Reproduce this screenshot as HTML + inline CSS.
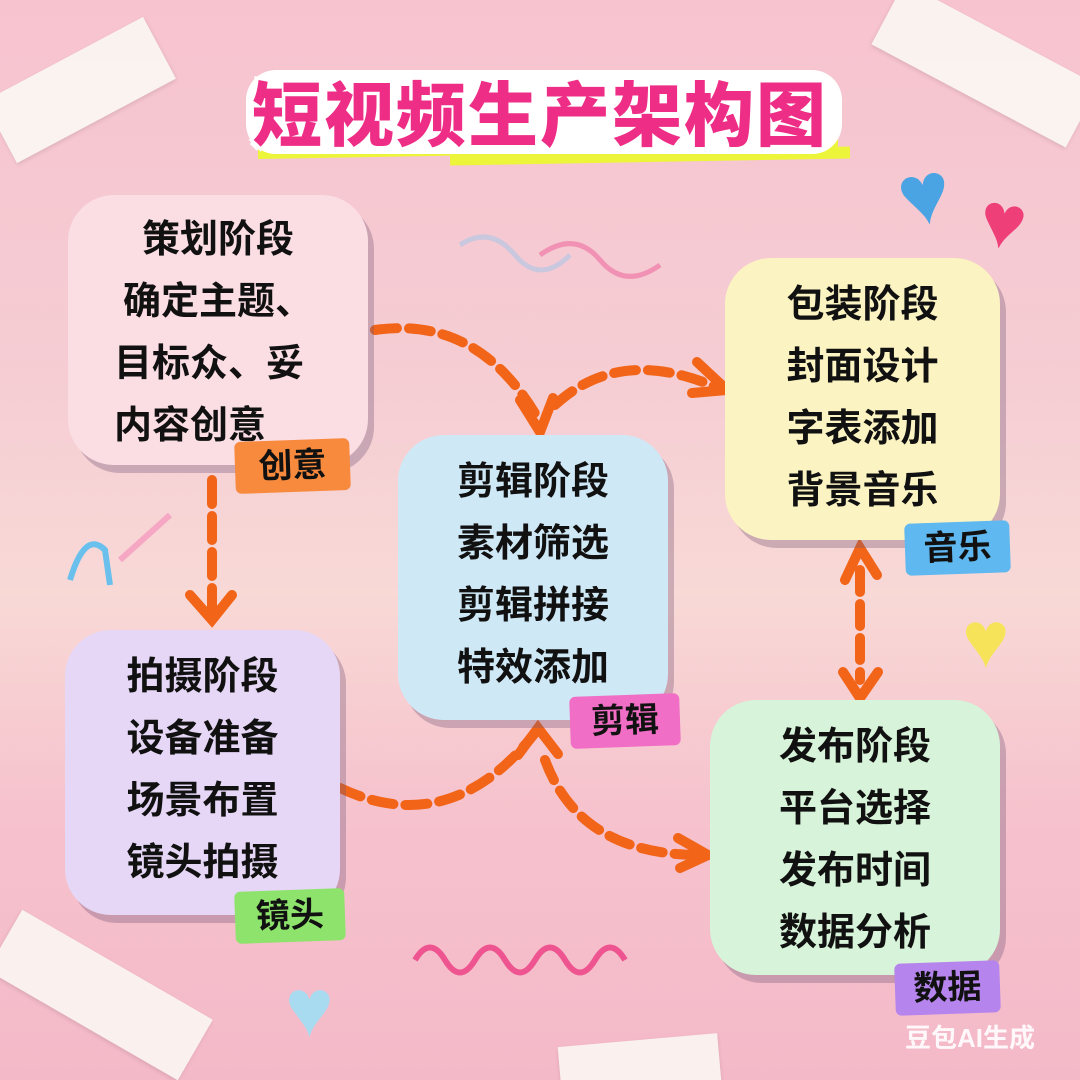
<!DOCTYPE html>
<html><head><meta charset="utf-8"><style>
*{margin:0;padding:0;box-sizing:border-box}
html,body{width:1080px;height:1080px;overflow:hidden}
body{position:relative;font-family:"Liberation Sans","Noto Sans CJK SC",sans-serif;
background:linear-gradient(180deg,#f7c3cf 0%,#f5cdd3 35%,#f8d9d6 55%,#f6c2cd 75%,#f4b9c8 100%);}
.box{position:absolute;border-radius:46px;box-shadow:6px 8px 0 rgba(120,90,120,.35);text-align:center;color:#111;font-weight:bold;font-size:38px;line-height:62px;}
.box p{white-space:nowrap}
.tag{position:absolute;font-size:34px;font-weight:bold;color:#111;text-align:center;line-height:52px;border-radius:6px;transform:rotate(-2deg)}
.tape{position:absolute;background:rgba(250,250,245,.85);box-shadow:0 2px 4px rgba(0,0,0,.1)}
.title{position:absolute;left:252px;top:60px;font-size:70px;font-weight:900;color:#ee2d86;letter-spacing:2px;white-space:nowrap;
text-shadow:4px 4px 0 #fff,-4px -4px 0 #fff,4px -4px 0 #fff,-4px 4px 0 #fff,0 5px 0 #fff,0 -5px 0 #fff,5px 0 0 #fff,-5px 0 0 #fff;}
.heart{position:absolute;line-height:1}
</style></head><body>
<div class="tape" style="left:-10px;top:55px;width:180px;height:70px;transform:rotate(-28deg)"></div>
<div class="tape" style="left:875px;top:30px;width:220px;height:70px;transform:rotate(28deg)"></div>
<div class="tape" style="left:-10px;top:960px;width:220px;height:70px;transform:rotate(30deg)"></div>
<div class="tape" style="left:560px;top:1040px;width:160px;height:60px;transform:rotate(-5deg)"></div>
<div style="position:absolute;left:258px;top:140px;width:580px;height:14px;background:#ecf53a;transform:rotate(-1deg)"></div>
<div style="position:absolute;left:450px;top:150px;width:400px;height:12px;background:#ecf53a;transform:rotate(-1deg)"></div>
<div style="position:absolute;left:246px;top:70px;width:596px;height:84px;background:#fff;border-radius:30px"></div>
<div class="title">短视频生产架构图</div>
<div class="heart" style="left:898px;top:150px;font-size:88px;color:#4aa3e3;transform:rotate(-10deg)">♥</div>
<div class="heart" style="left:980px;top:182px;font-size:78px;color:#ee3f78;transform:rotate(10deg)">♥</div>
<div class="heart" style="left:962px;top:600px;font-size:80px;color:#f6e35a">♥</div>
<div class="heart" style="left:285px;top:968px;font-size:82px;color:#a9dbf0">♥</div>
<svg width="1080" height="1080" style="position:absolute;left:0;top:0">
<path d="M460 245 Q490 225 515 255 T570 255" stroke="#b8c8e4" stroke-width="5" fill="none" opacity=".7"/>
<path d="M540 255 Q575 230 600 260 T660 265" stroke="#f07aa6" stroke-width="5" fill="none" opacity=".7"/>
<path d="M415 960 q15 -25 30 0 t30 0 t30 0 t30 0 t30 0 t30 0 t30 0" stroke="#ee5490" stroke-width="6" fill="none"/>
<path d="M70 580 q15 -50 35 -30 l5 35" stroke="#6ac0ec" stroke-width="6" fill="none"/>
<path d="M120 560 l50 -45" stroke="#f6a7c4" stroke-width="6"/>
<g stroke="#f26418" stroke-width="10" fill="none" stroke-linecap="round">
<path d="M375 330 Q480 315 540 422" stroke-dasharray="22 12"/>
<path d="M520 400 L540 432 L553 398"/>
<path d="M555 405 Q620 345 718 388" stroke-dasharray="22 12"/>
<path d="M697 362 L727 390 L692 393"/>
<path d="M212 480 L212 612" stroke-dasharray="24 12"/>
<path d="M190 595 L212 620 L232 595"/>
<path d="M340 788 Q450 840 535 733" stroke-dasharray="22 12"/>
<path d="M518 755 L538 728 L558 754"/>
<path d="M545 760 Q580 855 700 855" stroke-dasharray="22 12"/>
<path d="M678 838 L708 855 L680 868"/>
<path d="M860 570 L860 680" stroke-dasharray="22 12"/>
<path d="M845 580 L860 548 L877 575"/>
<path d="M843 672 L860 698 L878 672"/>
</g>
<g stroke-width="6" fill="none" stroke-linecap="round">
<path d="M118 397 Q160 405 250 398" stroke="#ee3f9c"/>
<path d="M290 395 Q310 387 338 390" stroke="#ee3f9c"/>
<path d="M220 830 L290 830" stroke="#7fe07a"/>
<path d="M115 885 Q150 893 230 885" stroke="#7fe07a"/>
</g>
</svg>
<div class="box" style="left:68px;top:195px;width:300px;height:270px;background:#fbdde4;padding-top:14px"><p>策划阶段</p><p>确定主题、</p><p style="text-align:left;padding-left:46px">目标众、妥</p><p style="text-align:left;padding-left:46px">内容创意</p></div>
<div class="box" style="left:65px;top:630px;width:275px;height:285px;background:#e5d7f5;padding-top:16px"><p>拍摄阶段</p><p>设备准备</p><p>场景布置</p><p>镜头拍摄</p></div>
<div class="box" style="left:398px;top:435px;width:270px;height:285px;background:#cfe8f6;padding-top:16px"><p>剪辑阶段</p><p>素材筛选</p><p>剪辑拼接</p><p>特效添加</p></div>
<div class="box" style="left:725px;top:258px;width:275px;height:282px;background:#fbf3c2;padding-top:16px"><p>包装阶段</p><p>封面设计</p><p>字表添加</p><p>背景音乐</p></div>
<div class="box" style="left:710px;top:700px;width:290px;height:275px;background:#d7f3d9;padding-top:16px"><p>发布阶段</p><p>平台选择</p><p>发布时间</p><p>数据分析</p></div>
<div class="tag" style="left:235px;top:440px;width:115px;background:#f88a3e">创意</div>
<div class="tag" style="left:235px;top:890px;width:110px;background:#8ee36c">镜头</div>
<div class="tag" style="left:570px;top:695px;width:110px;background:#f06ec5">剪辑</div>
<div class="tag" style="left:905px;top:522px;width:105px;background:#5fb8ef">音乐</div>
<div class="tag" style="left:895px;top:962px;width:105px;background:#b584ec">数据</div>
<div style="position:absolute;left:905px;top:1018px;font-size:26px;font-weight:bold;color:rgba(255,255,255,.9)">豆包AI生成</div>
</body></html>
